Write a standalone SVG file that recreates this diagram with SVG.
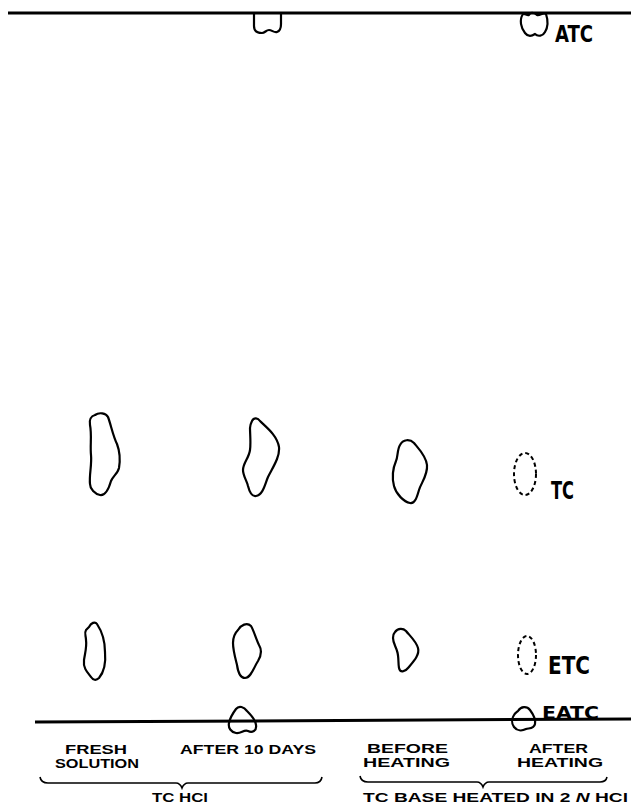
<svg xmlns="http://www.w3.org/2000/svg" width="631" height="808" viewBox="0 0 631 808">
<style>
.spot{fill:none;stroke:#000;stroke-width:2.2;stroke-linejoin:round}
.faint{fill:none;stroke:#000;stroke-width:2;stroke-dasharray:4 3}
.line{fill:none;stroke:#000;stroke-width:3}
.brace{fill:none;stroke:#000;stroke-width:1.6}
.lab{font-family:"Liberation Sans",Arial,sans-serif;font-weight:bold;font-size:12.5px;fill:#000}
.tag{font-family:"DejaVu Sans Condensed","DejaVu Sans",sans-serif;font-weight:bold;fill:#000}
</style>
<rect width="631" height="808" fill="#fff"/>
<g id="lines">
<line class="line" x1="8" y1="13" x2="631" y2="13"/>
<line class="line" x1="35" y1="722" x2="631" y2="719"/>
</g>
<g id="top-spots">
<path class="spot" d="M254,13 L254,26 C254,32 258,33 262,33 C265,33 266,30 269,30 C272,30 274,33 277,32 C280,31 281,28 281,24 L281,13"/>
<path class="spot" d="M523,14 C519,20 521,28 525,33 C528,37 532,36 535,34 C538,37 543,36 545,32 C548,27 548,20 546,14 C543,12 540,16 537,15 C534,12 530,12 529,15 C527,16 525,13 523,14 Z"/>
<text class="tag" x="555" y="42" font-size="23" textLength="38" lengthAdjust="spacingAndGlyphs">ATC</text>
</g>
<g id="tc-row">
<path class="spot" d="M95,415 C99,412 106,413 108,417 C111,425 113,436 117,444 C120,452 120,462 119,468 C118,473 113,476 111,481 C109,488 106,496 100,495 C95,494 90,489 90,484 C89,475 92,465 91,455 C90,445 92,435 90,425 C89,420 91,416 95,415 Z"/>
<path class="spot" d="M252,421 C254,417 258,418 260,421 C266,427 277,435 279,447 C280,457 273,467 268,477 C265,484 263,495 256,496 C251,497 249,490 248,486 C247,481 243,476 243,470 C243,463 249,458 250,450 C251,443 250,434 250,428 C250,425 251,423 252,421 Z"/>
<path class="spot" d="M400,445 C403,439 410,439 414,443 C419,449 426,456 427,465 C428,475 421,483 419,490 C417,497 415,504 410,503 C404,502 396,494 394,486 C392,478 393,468 396,461 C398,457 397,450 400,445 Z"/>
<ellipse class="faint" cx="525" cy="474" rx="11" ry="21"/>
<text class="tag" x="551" y="499" font-size="24" textLength="23" lengthAdjust="spacingAndGlyphs">TC</text>
</g>
<g id="etc-row">
<path class="spot" d="M89,627 C91,623 95,621 97,624 C101,630 105,640 105,652 C106,663 104,672 99,678 C96,681 93,680 91,677 C87,672 83,668 84,660 C85,653 87,647 86,640 C86,636 84,633 86,630 C87,629 88,628 89,627 Z"/>
<path class="spot" d="M238,630 C241,625 247,622 251,626 C254,631 256,639 259,645 C262,650 261,656 258,661 C254,667 251,678 245,678 C240,678 238,672 237,665 C235,657 233,650 233,643 C233,637 235,633 238,630 Z"/>
<path class="spot" d="M395,632 C398,628 403,628 406,631 C410,636 416,641 418,648 C420,655 413,662 408,668 C405,672 400,673 399,668 C398,663 399,656 397,651 C396,647 393,643 393,638 C393,635 394,633 395,632 Z"/>
<ellipse class="faint" cx="527" cy="655" rx="9" ry="19"/>
<text class="tag" x="548" y="674" font-size="24" textLength="42" lengthAdjust="spacingAndGlyphs">ETC</text>
</g>
<g id="eatc-row">
<path class="spot" d="M236,709 C239,705 244,707 247,711 C251,715 256,720 256,725 C257,731 252,733 248,731 C244,729 241,734 236,733 C231,732 228,728 229,723 C230,718 233,713 236,709 Z"/>
<path class="spot" d="M518,711 C521,706 527,706 530,710 C533,714 536,719 535,724 C534,729 529,728 526,729 C522,731 517,731 514,727 C511,723 512,718 514,715 C515,713 517,712 518,711 Z"/>
<text class="tag" x="542" y="719" font-size="18" textLength="57" lengthAdjust="spacingAndGlyphs">EATC</text>
</g>
<g id="labels">
<text class="lab" x="65" y="754" textLength="62" lengthAdjust="spacingAndGlyphs">FRESH</text>
<text class="lab" x="55" y="768" textLength="84" lengthAdjust="spacingAndGlyphs">SOLUTION</text>
<text class="lab" x="180" y="754" textLength="136" lengthAdjust="spacingAndGlyphs">AFTER 10 DAYS</text>
<text class="lab" x="367" y="753" textLength="81" lengthAdjust="spacingAndGlyphs">BEFORE</text>
<text class="lab" x="363" y="767" textLength="87" lengthAdjust="spacingAndGlyphs">HEATING</text>
<text class="lab" x="529" y="753" textLength="59" lengthAdjust="spacingAndGlyphs">AFTER</text>
<text class="lab" x="517" y="767" textLength="86" lengthAdjust="spacingAndGlyphs">HEATING</text>
</g>
<g id="braces">
<path class="brace" d="M40,777 Q41,783 48,783 L176,783 Q180,783 182,788 Q184,783 188,783 L315,783 Q321,783 322,777"/>
<path class="brace" d="M360,776 Q361,782 368,782 L477,782 Q481,782 483,787 Q485,782 489,782 L600,782 Q606,782 607,777"/>
<text class="lab" x="152" y="802" font-size="13" textLength="56" lengthAdjust="spacingAndGlyphs">TC HCl</text>
<text class="lab" x="363" y="802" font-size="13" textLength="265" lengthAdjust="spacingAndGlyphs">TC BASE HEATED IN 2 <tspan font-style="italic">N</tspan> HCl</text>
</g>
</svg>
